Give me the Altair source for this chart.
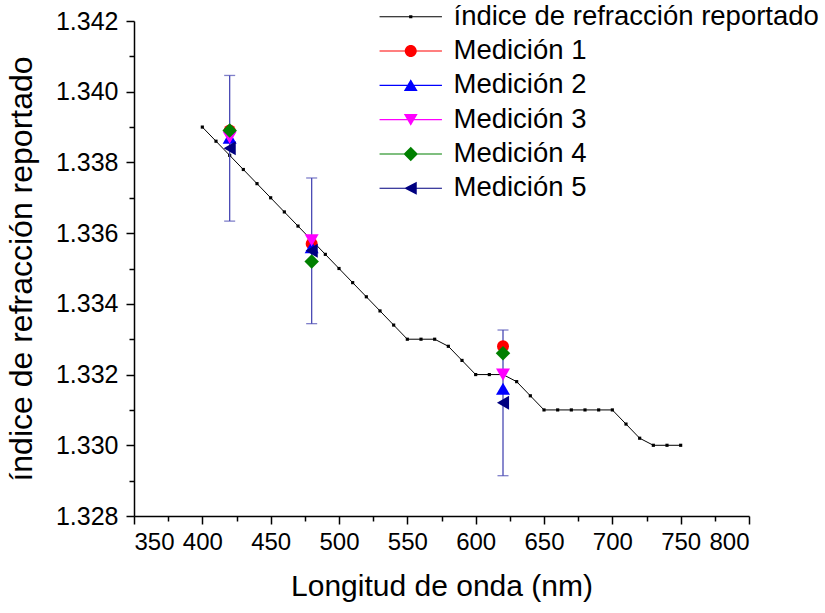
import altair as alt
import pandas as pd

# ---------------- data ----------------
wl_ref = [400, 410, 420, 430, 440, 450, 460, 470, 480, 490, 500, 510, 520, 530,
          540, 550, 560, 570, 580, 590, 600, 610, 620, 630, 640, 650, 660, 670,
          680, 690, 700, 710, 720, 730, 740, 750]
n_ref = [1.3390, 1.3386, 1.3382, 1.3378, 1.3374, 1.3370, 1.3366, 1.3362, 1.3358,
         1.3354, 1.3350, 1.3346, 1.3342, 1.3338, 1.3334, 1.3330, 1.3330, 1.3330,
         1.3328, 1.3324, 1.3320, 1.3320, 1.3320, 1.3318, 1.3314, 1.3310, 1.3310,
         1.3310, 1.3310, 1.3310, 1.3310, 1.3306, 1.3302, 1.3300, 1.3300, 1.3300]

wl_med = [420, 480, 620]
med1 = [1.3389, 1.3357, 1.3328]
med2 = [1.3387, 1.3356, 1.3316]
med3 = [1.3387, 1.3358, 1.3320]
med4 = [1.3389, 1.3352, 1.3326]
med5 = [1.3384, 1.3355, 1.3312]
err5 = [0.00206, 0.00206, 0.00206]

series_names = ["índice de refracción reportado", "Medición 1", "Medición 2",
                "Medición 3", "Medición 4", "Medición 5"]
series_colors = ["#000000", "#ff0000", "#0000ff", "#ff00ff", "#008000", "#000080"]
marker_shapes = ["square", "circle", "triangle-up", "triangle-down", "diamond", "triangle-left"]
marker_sizes = [10, 144, 196, 196, 210, 196]

x_major_ticks = [350, 400, 450, 500, 550, 600, 650, 700, 750, 800]
x_minor_ticks = [375, 425, 475, 525, 575, 625, 675, 725, 775]
y_major_ticks = [1.328, 1.330, 1.332, 1.334, 1.336, 1.338, 1.340, 1.342]
y_minor_ticks = [1.329, 1.331, 1.333, 1.335, 1.337, 1.339, 1.341]

FONT = "Liberation Sans"

# legend symbols: a line segment with the marker in its middle
LINE = "M-5.2,-0.09H5.2V0.09H-5.2Z "
legend_paths = [
    LINE + "M-0.27,-0.27H0.27V0.27H-0.27Z",
    LINE + "M1,0A1,1,0,1,1,-1,0A1,1,0,1,1,1,0Z",
    LINE + "M0,-1L1.15,0.95L-1.15,0.95Z",
    LINE + "M0,1L-1.15,-0.95L1.15,-0.95Z",
    LINE + "M0,-1.2L1.2,0L0,1.2L-1.2,0Z",
    LINE + "M-1.1,0L1,-1.1L1,1.1Z",
]

# ---------------- tables ----------------
ref_df = pd.DataFrame({"wl": wl_ref, "n": n_ref})
meds = [med1, med2, med3, med4, med5]
err_df = pd.DataFrame({"wl": wl_med,
                       "lo": [m - e for m, e in zip(med5, err5)],
                       "hi": [m + e for m, e in zip(med5, err5)]})
legend_df = pd.DataFrame({"serie": series_names})

xs = alt.Scale(domain=[350, 800], nice=False, zero=False)
ys = alt.Scale(domain=[1.328, 1.342], nice=False, zero=False)

common_axis = dict(grid=False, domainColor="black", tickColor="black",
                   labelColor="black", titleColor="black", labelFont=FONT,
                   titleFont=FONT, titleFontWeight="normal", domainWidth=1.5,
                   tickWidth=1.5)

x_major = alt.Axis(orient="bottom", values=x_major_ticks, format="d",
                   title="Longitud de onda (nm)", labelFontSize=24, titleFontSize=30,
                   tickSize=8, labelPadding=6, titlePadding=17, **common_axis)
x_minor = alt.Axis(orient="bottom", values=x_minor_ticks, labels=False, title=None,
                   tickSize=5, domain=False, **common_axis)
y_major = alt.Axis(orient="left", values=y_major_ticks, format=".3f",
                   title="índice de refracción reportado", labelFontSize=25,
                   titleFontSize=32, tickSize=8, labelPadding=8, titlePadding=17,
                   **common_axis)
y_minor = alt.Axis(orient="left", values=y_minor_ticks, labels=False, title=None,
                   tickSize=5, domain=False, **common_axis)

ref_line = alt.Chart(ref_df).mark_line(color="#000000", strokeWidth=1).encode(
    x=alt.X("wl:Q", scale=xs, axis=x_major),
    y=alt.Y("n:Q", scale=ys, axis=y_major),
)
ref_pts = alt.Chart(ref_df).mark_point(shape="square", filled=True, size=10,
                                       color="#000000", opacity=1).encode(
    x=alt.X("wl:Q", scale=xs, axis=x_minor),
    y=alt.Y("n:Q", scale=ys, axis=y_minor),
)

err_rule = alt.Chart(err_df).mark_rule(color="#4a4ab4", strokeWidth=1.3).encode(
    x=alt.X("wl:Q", scale=xs, axis=None),
    y=alt.Y("lo:Q", scale=ys, axis=None),
    y2="hi:Q",
)
err_top = alt.Chart(err_df).mark_tick(color="#4a4ab4", orient="horizontal",
                                      size=11, thickness=1.3).encode(
    x=alt.X("wl:Q", scale=xs, axis=None),
    y=alt.Y("hi:Q", scale=ys, axis=None),
)
err_bot = alt.Chart(err_df).mark_tick(color="#4a4ab4", orient="horizontal",
                                      size=11, thickness=1.3).encode(
    x=alt.X("wl:Q", scale=xs, axis=None),
    y=alt.Y("lo:Q", scale=ys, axis=None),
)

marker_layers = []
for i, vals in enumerate(meds, start=1):
    df = pd.DataFrame({"wl": wl_med, "n": vals})
    marker_layers.append(
        alt.Chart(df).mark_point(shape=marker_shapes[i], filled=True,
                                 size=marker_sizes[i], color=series_colors[i],
                                 opacity=1, strokeWidth=0).encode(
            x=alt.X("wl:Q", scale=xs, axis=None),
            y=alt.Y("n:Q", scale=ys, axis=None),
        )
    )

legend_layer = alt.Chart(legend_df).mark_point(filled=True, opacity=1).encode(
    color=alt.Color("serie:N",
                    scale=alt.Scale(domain=series_names, range=series_colors),
                    legend=alt.Legend(orient="none", legendX=263, legendY=-18,
                                      direction="vertical", title=None,
                                      labelFontSize=27.5, labelFont=FONT,
                                      labelColor="black", symbolSize=144,
                                      labelOffset=29, rowPadding=5.3, padding=0,
                                      symbolStrokeWidth=0, symbolOpacity=1,
                                      labelLimit=600)),
    shape=alt.Shape("serie:N",
                    scale=alt.Scale(domain=series_names, range=legend_paths)),
).transform_filter("false")

chart = alt.layer(
    ref_line, ref_pts, err_rule, err_top, err_bot, *marker_layers, legend_layer
).resolve_axis(x="independent", y="independent").properties(
    width=615, height=495,
    autosize=alt.AutoSizeParams(type="none"),
    padding={"left": 134, "top": 21, "right": 76, "bottom": 97},
    background="white",
).configure_view(strokeWidth=0)

chart.save("out.html", embed_options={"renderer": "svg", "actions": False})
